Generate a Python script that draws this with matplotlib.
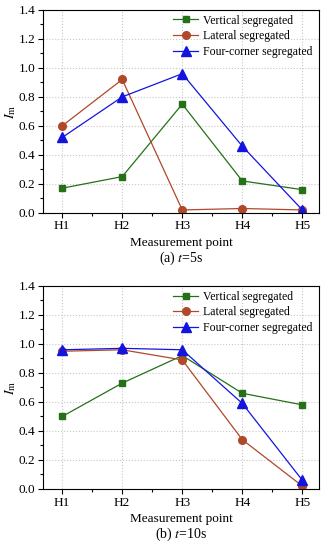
import matplotlib
matplotlib.use("Agg")
import matplotlib.pyplot as plt
from matplotlib.ticker import MultipleLocator, FormatStrFormatter

plt.rcParams['font.family'] = ['Liberation Serif', 'DejaVu Serif']
plt.rcParams['mathtext.fontset'] = 'stix'
plt.rcParams['font.size'] = 9

points = ['H1', 'H2', 'H3', 'H4', 'H5']
labels = ['Vertical segregated', 'Lateral segregated', 'Four-corner segregated']

vertical_5s = [0.17, 0.25, 0.75, 0.22, 0.16]
lateral_5s = [0.60, 0.92, 0.02, 0.03, 0.02]
corner_5s = [0.52, 0.80, 0.96, 0.46, 0.02]

vertical_10s = [0.50, 0.73, 0.92, 0.66, 0.58]
lateral_10s = [0.95, 0.96, 0.89, 0.34, 0.02]
corner_10s = [0.96, 0.97, 0.96, 0.59, 0.06]

colors = ['#267018', '#b0482a', '#1414e0']
markers = ['s', 'o', '^']
msizes = [5, 5.5, 6.5]

fig = plt.figure(figsize=(3.28, 5.5), dpi=100)
ax1 = fig.add_axes([0.131, 0.613, 0.842, 0.369])
ax2 = fig.add_axes([0.131, 0.111, 0.842, 0.369])

x = list(range(1, 6))

def draw(ax, series, caption):
    for y, lab, c, m, ms in zip(series, labels, colors, markers, msizes):
        ax.plot(x, y, color=c, marker=m, markersize=ms, linewidth=0.9, label=lab)
    ax.set_xlim(0.68, 5.28)
    ax.set_ylim(0, 1.4)
    ax.set_xticks(x)
    ax.set_xticklabels(points)
    ax.yaxis.set_major_locator(MultipleLocator(0.2))
    ax.yaxis.set_minor_locator(MultipleLocator(0.1))
    ax.set_xticks([1.5, 2.5, 3.5, 4.5], minor=True)
    ax.yaxis.set_major_formatter(FormatStrFormatter('%.1f'))
    ax.grid(True, which='major', linestyle=':', color='#c8c8c8', linewidth=0.8)
    ax.tick_params(which='major', direction='out', length=3.5, width=0.8, labelsize=9.5, pad=2)
    ax.tick_params(which='minor', direction='out', length=2, width=0.8)
    ax.set_ylabel(r'$I_{\rm m}$', fontsize=10)
    ax.yaxis.set_label_coords(-0.09, 0.5)
    ax.set_xlabel('Measurement point', fontsize=9.5, labelpad=3)
    ax.text(0.5, -0.225, caption, transform=ax.transAxes, ha='center', va='center',
            fontsize=10)
    ax.legend(loc='upper left', bbox_to_anchor=(0.455, 1.0), frameon=False,
              handlelength=2.1, borderaxespad=0, labelspacing=0.3,
              handletextpad=0.4, fontsize=8.5)

draw(ax1, [vertical_5s, lateral_5s, corner_5s], r'(a) $t$=5s')
draw(ax2, [vertical_10s, lateral_10s, corner_10s], r'(b) $t$=10s')

fig.savefig('out.png', dpi=100)
